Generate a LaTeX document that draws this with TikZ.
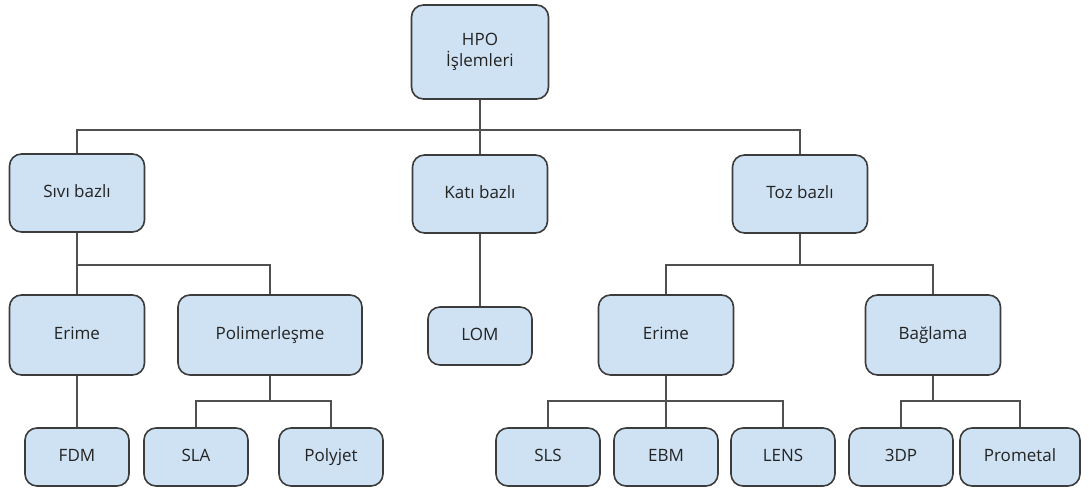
\documentclass[tikz,border=0pt]{standalone}
\usepackage{fontspec}
\setmainfont{Open Sans}
\definecolor{boxblue}{RGB}{207,226,243}
\definecolor{boxline}{RGB}{60,60,60}
\definecolor{linkgray}{RGB}{80,80,80}
\definecolor{textgray}{RGB}{35,35,35}

\begin{document}
\begin{tikzpicture}[x=1pt,y=-1pt,
  box/.style={draw=boxline,fill=boxblue,rounded corners=12pt,line width=1.6pt,
    align=center,inner sep=0pt,text=textgray,font=\fontsize{17}{21}\selectfont},
  group/.style={box,minimum width=135pt,minimum height=78pt,text height=12.5pt,text depth=3.5pt},
  leaf/.style={box,minimum width=104pt,minimum height=58pt,text height=12.5pt,text depth=3.5pt},
  link/.style={draw=linkgray,line width=1.3pt}]
\useasboundingbox (0,0) rectangle (1089,489);
\coordinate (bus1) at (0,130);
\coordinate (bus2) at (0,265);
\coordinate (bus3) at (0,401);

\node[box,minimum width=137pt,minimum height=94pt] (hpo) at (480,52) {HPO\\İşlemleri};
\node[group] (sivi) at (77,193) {Sıvı bazlı};
\node[group] (kati) at (480,194) {Katı bazlı};
\node[group] (toz) at (800,194) {Toz bazlı};

\node[group,minimum height=80pt] (erimeS) at (77,335) {Erime};
\node[group,minimum width=184pt,minimum height=80pt] (polimer) at (270,335) {Polimerleşme};
\node[leaf] (lom) at (480,336) {LOM};
\node[group,minimum height=80pt] (erimeT) at (666,335) {Erime};
\node[group,minimum height=80pt] (baglama) at (933,335) {Bağlama};

\node[leaf] (fdm) at (77,457) {FDM};
\node[leaf] (sla) at (196,457) {SLA};
\node[leaf] (polyjet) at (331,457) {Polyjet};
\node[leaf] (sls) at (548,457) {SLS};
\node[leaf] (ebm) at (666,457) {EBM};
\node[leaf] (lens) at (783,457) {LENS};
\node[leaf] (tdp) at (901,457) {3DP};
\node[leaf,minimum width=120pt] (prometal) at (1020,457) {Prometal};

\draw[link] (hpo.south) -- (kati.north);
\draw[link] (sivi.north) -- (sivi.north |- bus1) -- (toz.north |- bus1) -- (toz.north);

\draw[link] (sivi.south) -- (erimeS.north);
\draw[link] (sivi.south |- bus2) -- (polimer.north |- bus2) -- (polimer.north);
\draw[link] (erimeS.south) -- (fdm.north);
\draw[link] (polimer.south) -- (polimer.south |- bus3);
\draw[link] (sla.north) -- (sla.north |- bus3) -- (polyjet.north |- bus3) -- (polyjet.north);

\draw[link] (kati.south) -- (lom.north);

\draw[link] (toz.south) -- (toz.south |- bus2);
\draw[link] (erimeT.north) -- (erimeT.north |- bus2) -- (baglama.north |- bus2) -- (baglama.north);
\draw[link] (erimeT.south) -- (ebm.north);
\draw[link] (sls.north) -- (sls.north |- bus3) -- (lens.north |- bus3) -- (lens.north);
\draw[link] (baglama.south) -- (baglama.south |- bus3);
\draw[link] (tdp.north) -- (tdp.north |- bus3) -- (prometal.north |- bus3) -- (prometal.north);
\end{tikzpicture}
\end{document}
